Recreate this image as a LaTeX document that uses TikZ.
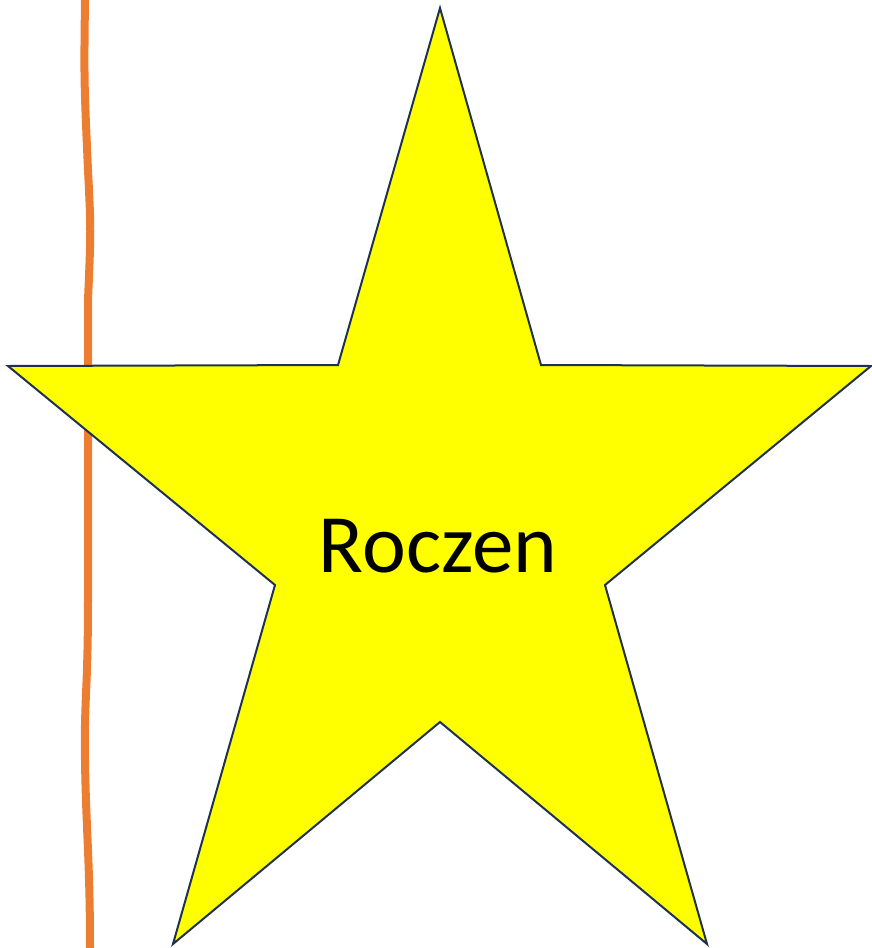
\documentclass[tikz,border=0pt]{standalone}
\usepackage{fontspec}
\setmainfont{Carlito}
\usetikzlibrary{positioning}
\definecolor{staryellow}{RGB}{255,255,0}
\definecolor{starline}{RGB}{31,48,80}
\definecolor{wireorange}{RGB}{237,125,49}

\begin{document}
\begin{tikzpicture}[x=1pt, y=-1pt]
        \useasboundingbox (0,0) rectangle (871,948);

        % Wavy orange line behind the star
        \coordinate (w0) at (85,0);
        \coordinate (w1) at (88,170);
        \coordinate (w2) at (88,300);
        \coordinate (w3) at (88,600);
        \coordinate (w4) at (85,760);
        \coordinate (w5) at (90,948);
        \draw[wireorange, line width=8pt]
            (w0) .. controls (84,80) .. (w1)
            .. controls (91,230) .. (w2)
            -- (w3)
            .. controls (88,690) and (84,700) .. (w4)
            .. controls (86,830) and (90,860) .. (w5);

        % Outer points
        \coordinate (top) at (440,8);
        \coordinate (left) at (8,366);
        \coordinate (bl) at (173,944);
        \coordinate (br) at (707,944);
        \coordinate (right) at (871,366);

        % Inner points
        \coordinate (iul) at (338,365);
        \coordinate (ill) at (275,585);
        \coordinate (ib) at (440,722);
        \coordinate (ilr) at (605,585);
        \coordinate (iur) at (541,365);

        % Star
        \draw[starline, fill=staryellow, line width=2pt, line join=miter]
            (top)--(iur)--(right)--(ilr)--(br)--(ib)--(bl)--(ill)--(left)--(iul)--cycle;

        % Label
        \node[font=\fontsize{83}{100}\selectfont, inner sep=0pt] (label) at (438,546) {Roczen};
    \end{tikzpicture}
\end{document}
